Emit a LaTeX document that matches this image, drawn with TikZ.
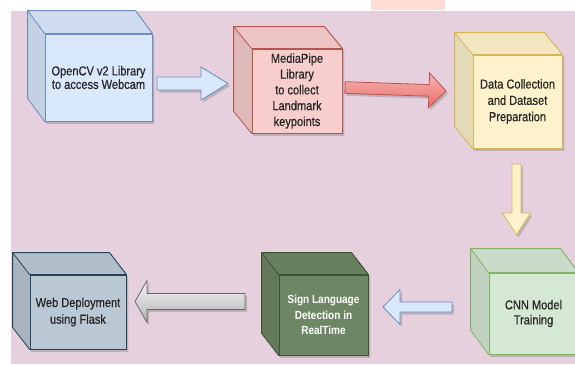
\documentclass[tikz,border=0pt]{standalone}
\usepackage{fontspec}
\setmainfont{Liberation Sans}[FakeStretch=0.85,FakeBold=0.6]
\newfontfamily\boldsans{Liberation Sans Bold}[FakeStretch=0.85]
\usetikzlibrary{calc,shadows}
\definecolor{bgpink}{HTML}{E6D0DE}
\definecolor{hilite}{HTML}{FFDCD6}
\definecolor{bFill}{HTML}{DAE8FC}\definecolor{bLine}{HTML}{6C8EBF}
\definecolor{rFill}{HTML}{F8CECC}\definecolor{rLine}{HTML}{B85450}
\definecolor{rDark}{HTML}{EA6B66}\definecolor{rLight}{HTML}{F5B5B3}
\definecolor{yFill}{HTML}{FFF2CC}\definecolor{yLine}{HTML}{D6B656}
\definecolor{gFill}{HTML}{D5E8D4}\definecolor{gLine}{HTML}{82B366}
\definecolor{dgFill}{HTML}{6D8764}\definecolor{dgLine}{HTML}{3A5431}
\definecolor{sFill}{HTML}{BAC8D3}\definecolor{sLine}{HTML}{23445D}
\definecolor{grLight}{HTML}{F5F5F5}\definecolor{grDark}{HTML}{B3B3B3}\definecolor{grLine}{HTML}{666666}
\pgfdeclarelayer{back}\pgfdeclarelayer{bg}
\pgfsetlayers{back,bg,main}
\tikzset{
  front/.style={draw, line width=0.8pt, inner sep=0pt, align=center,
    font=\fontsize{13}{15}\selectfont, text=black!85},
  shade/.style={drop shadow={shadow xshift=2pt, shadow yshift=-2.5pt, opacity=0.3, fill=black!60}},
  arr/.style={line width=0.8pt, line join=miter, shade},
  arrBlue/.style={arr, fill=bFill, draw=bLine},
  arrRed/.style={arr, top color=rLight, bottom color=rDark, draw=rLine},
  arrYellow/.style={arr, fill=yFill, draw=yLine},
  arrGray/.style={arr, top color=grLight, bottom color=grDark, draw=grLine},
}
\newcommand\cubefaces[4]{%
  \begin{pgfonlayer}{bg}
  \filldraw[fill=#2!90!black, draw=#3, line width=0.8pt, line join=round, shade]
    ($(#1.north west)+#4$) -- ($(#1.north east)+#4$) -- (#1.north east) -- (#1.south east)
    -- (#1.south west) -- ($(#1.south west)+#4$) -- cycle;
  \filldraw[fill=#2!95!black, draw=#3, line width=0.8pt, line join=round]
    ($(#1.north west)+#4$) -- ($(#1.north east)+#4$) -- (#1.north east) -- (#1.north west) -- cycle;
  \end{pgfonlayer}}
\newcommand\blockarrow[6]{%
  \coordinate (#3-h) at ($(#3)!#6!(#2)$);
  \path[#1] ($(#2)!#4!90:(#3)$) -- ($(#3-h)!#4!90:(#3)$) -- ($(#3-h)!#5!90:(#3)$) -- (#3)
    -- ($(#3-h)!#5!-90:(#3)$) -- ($(#3-h)!#4!-90:(#3)$) -- ($(#2)!#4!-90:(#3)$) -- cycle;}
\begin{document}
\begin{tikzpicture}[x=1pt,y=-1pt]
\useasboundingbox (0,0) rectangle (575,364);
\begin{pgfonlayer}{back}
  \fill[white] (0,0) rectangle (575,364);
  \fill[hilite] (371,0) rectangle (445,10);
  \fill[bgpink] (11,11) rectangle (575,364);
\end{pgfonlayer}
\clip (0,0) rectangle (575,364);

% boxes (front faces)
\node[front, fill=bFill, draw=bLine, minimum width=107pt, minimum height=87pt,
  font=\fontsize{13}{13.5}\selectfont] (b1) at (98.5,77.5) {OpenCV v2 Library\\to access Webcam};
\cubefaces{b1}{bFill}{bLine}{(-17,-23)}

\node[front, fill=rFill, draw=rLine, minimum width=90pt, minimum height=84pt,
  font=\fontsize{13}{15.8}\selectfont] (b2) at (297,91) {MediaPipe\\Library\\to collect\\Landmark\\keypoints};
\cubefaces{b2}{rFill}{rLine}{(-18,-22)}

\node[front, fill=yFill, draw=yLine, minimum width=89pt, minimum height=93pt,
  font=\fontsize{13}{16.3}\selectfont] (b3) at (517.5,101.5) {Data Collection\\and Dataset\\Preparation};
\cubefaces{b3}{yFill}{yLine}{(-18,-22)}

\node[front, fill=gFill, draw=gLine, minimum width=89pt, minimum height=81pt,
  font=\fontsize{13}{15}\selectfont] (b4) at (533.5,313.5) {CNN Model\\Training};
\cubefaces{b4}{gFill}{gLine}{(-18,-24)}

\node[front, fill=dgFill, draw=dgLine, minimum width=89pt, minimum height=80pt, text=white,
  font=\fontsize{11.8}{15.3}\selectfont\boldsans] (b5) at (323.5,315) {Sign Language\\Detection in\\RealTime};
\cubefaces{b5}{dgFill}{dgLine}{(-17,-22)}

\node[front, fill=sFill, draw=sLine, minimum width=96pt, minimum height=74pt,
  font=\fontsize{13}{16.7}\selectfont] (b6) at (78,312) {Web Deployment\\using Flask};
\cubefaces{b6}{sFill}{sLine}{(-17,-22)}

% arrows
\coordinate (a1s) at (157,83.5);  \coordinate (a1t) at (228,83.5);
\blockarrow{arrBlue}{a1s}{a1t}{6.5pt}{16.5pt}{27pt}
\coordinate (a2s) at (345,87.5);  \coordinate (a2t) at (446,91);
\blockarrow{arrRed}{a2s}{a2t}{5.8pt}{17.5pt}{17pt}
\coordinate (a3s) at (516.5,164); \coordinate (a3t) at (516.5,235);
\blockarrow{arrYellow}{a3s}{a3t}{4.5pt}{14pt}{22pt}
\coordinate (a4s) at (452,307);   \coordinate (a4t) at (383,307);
\blockarrow{arrBlue}{a4s}{a4t}{5pt}{17.5pt}{17pt}
\coordinate (a5s) at (245,301.5); \coordinate (a5t) at (135,301.5);
\blockarrow{arrGray}{a5s}{a5t}{8pt}{21pt}{12pt}
\end{tikzpicture}
\end{document}
